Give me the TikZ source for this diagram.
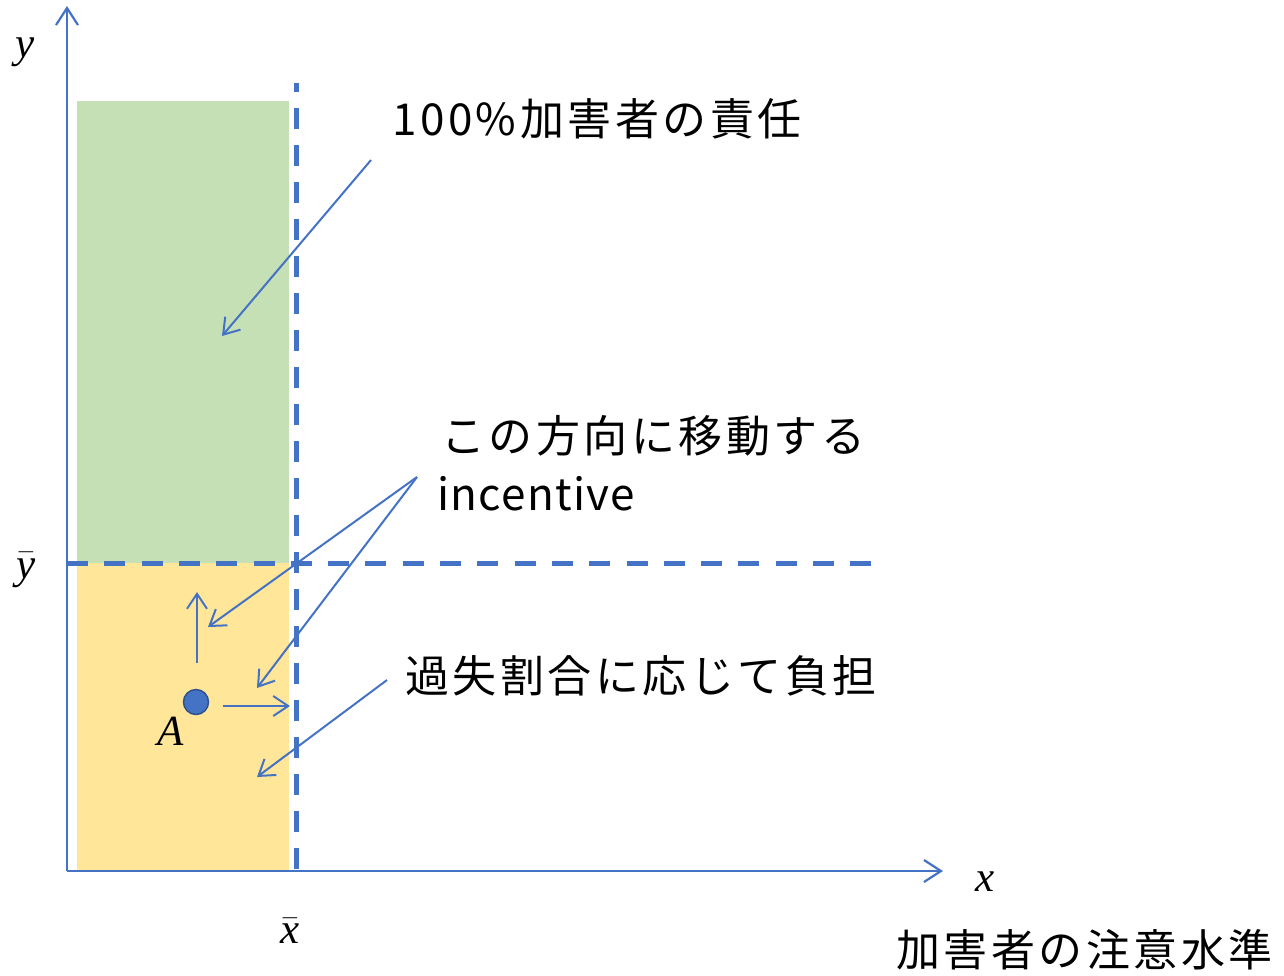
\RequirePackage{fix-cm}
\documentclass[tikz,border=0pt]{standalone}
\usepackage{fontspec}
\setmainfont{Liberation Serif}
\newfontfamily\jp[LetterSpace=8]{Noto Sans CJK JP}
\newfontfamily\jplat[LetterSpace=3]{Noto Sans CJK JP}
\usetikzlibrary{arrows.meta}
\definecolor{axblue}{HTML}{4472C4}
\definecolor{dotedge}{HTML}{2F528F}
\definecolor{greenfill}{HTML}{C5E0B4}
\definecolor{yellowfill}{HTML}{FFE699}
\newcommand{\itvar}[1]{\textit{#1}}
\newcommand{\barvar}[1]{$\bar{\mbox{\textit{#1}}}$}
\begin{document}
\begin{tikzpicture}[x=1pt,y=-1pt,
  axisline/.style={axblue, line width=2.5pt, -{Straight Barb[length=17pt,width=22pt,line width=2.2pt]}},
  notearrow/.style={axblue, line width=2pt, -{Straight Barb[length=15pt,width=20pt,line width=2pt]}},
  guide/.style={axblue, line width=5pt, dash pattern=on 21pt off 16pt},
  jptext/.style={anchor=west, inner sep=0pt, font=\jp\fontsize{44}{50}\selectfont},
  mathlabel/.style={inner sep=0pt, font=\fontsize{43}{50}\selectfont}]
\useasboundingbox (0,0) rectangle (1284,975);
% regions
\fill[greenfill] (77,101) rectangle (289,563);
\fill[yellowfill] (77,563) rectangle (289,870);
% coordinates
\coordinate (O) at (67,871);
\coordinate (Ytop) at (67,6);
\coordinate (Xend) at (943,871);
\coordinate (VdTop) at (296,83);
\coordinate (VdBot) at (296,877);
\coordinate (HdL) at (67,563);
\coordinate (HdR) at (872,563);
% guides
\draw[guide, dash phase=12pt] (VdTop) -- (VdBot);
\draw[axblue, line width=5pt, dash pattern=on 21pt off 16.3pt] (HdL) -- (HdR);
% axes
\draw[axisline] (O) -- (Ytop);
\draw[axisline] (O) -- (Xend);
% labels
\node[mathlabel] (ylab) at (25,52) {\itvar{y}};
\node[mathlabel] (xlab) at (985,882) {\itvar{x}};
\node[mathlabel] (ybar) at (26,570) {\barvar{y}};
\node[mathlabel] (xbar) at (290,931) {\barvar{x}};
% point A
\node[circle, fill=axblue, draw=dotedge, line width=1.5pt, minimum size=25pt, inner sep=0pt] (A) at (196,702) {};
\node[mathlabel] (Alab) at (171,731) {\itvar{A}};
\coordinate (upS) at (197,663);
\coordinate (upE) at (197,592);
\coordinate (rtS) at (223,706);
\coordinate (rtE) at (290,706);
\draw[notearrow] (upS) -- (upE);
\draw[notearrow] (rtS) -- (rtE);
% texts
\node[jptext] (t100) at (392,119) {100\%加害者の責任};
\node[jptext] (tdir) at (441,436) {この方向に移動する};
\node[anchor=west, inner sep=0pt, font=\jplat\fontsize{44}{50}\selectfont] (tinc) at (437,494) {incentive};
\node[jptext] (tkashitsu) at (405,676) {過失割合に応じて負担};
\node[jptext] (tlevel) at (896,950) {加害者の注意水準};
% annotation arrows
\coordinate (a1S) at (371,160);
\coordinate (a1E) at (222,336);
\coordinate (a2S) at (417,477);
\coordinate (a2E) at (208,627);
\coordinate (a3E) at (257,688);
\coordinate (a4S) at (387,680);
\coordinate (a4E) at (257,777);
\draw[notearrow] (a1S) -- (a1E);
\draw[notearrow] (a2S) -- (a2E);
\draw[notearrow] (a2S) -- (a3E);
\draw[notearrow] (a4S) -- (a4E);
\end{tikzpicture}
\end{document}
